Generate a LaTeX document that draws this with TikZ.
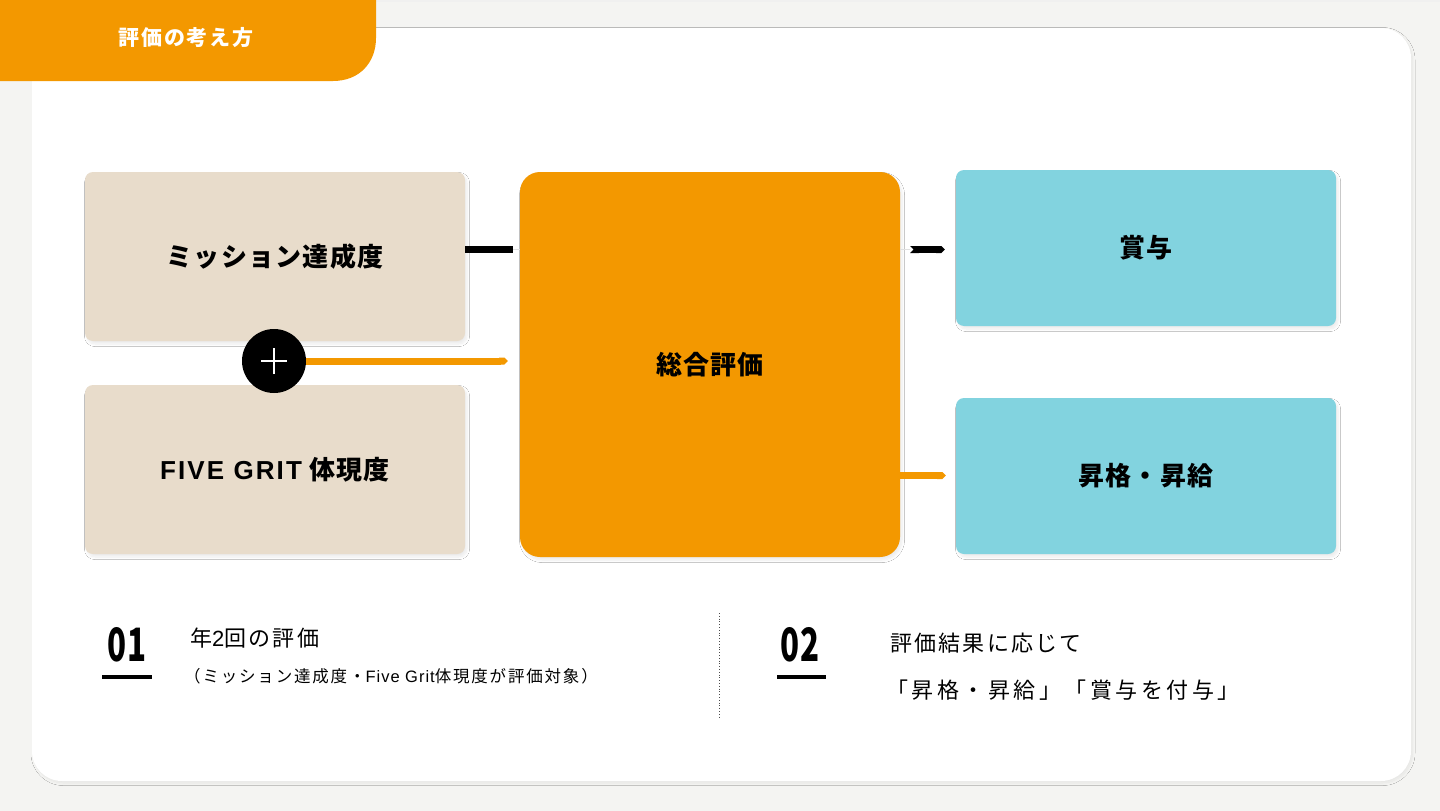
\documentclass[tikz,border=0pt]{standalone}
\usepackage{fontspec}
\setmainfont{Noto Sans CJK JP}
\newfontfamily\lat{Liberation Sans}
\usetikzlibrary{arrows.meta,shadows.blur}
\definecolor{bgc}{HTML}{F4F4F2}
\definecolor{org}{HTML}{F39800}
\definecolor{beige}{HTML}{E8DCCB}
\definecolor{cyanb}{HTML}{82D3DF}
\tikzset{
  box/.style={rounded corners=8pt, minimum width=380pt, inner sep=0pt, align=center,
    font=\fontsize{26}{30}\selectfont\bfseries\addfontfeatures{LetterSpace=5},
    blur shadow={shadow xshift=2pt, shadow yshift=-3pt, shadow opacity=8, shadow blur steps=8, shadow blur radius=2.5pt}},
  inbox/.style={box, fill=beige, minimum height=169pt},
  outbox/.style={box, fill=cyanb, minimum height=156pt},
  mainbox/.style={box, fill=org, rounded corners=20pt, minimum height=385pt},
  barline/.style={line width=7pt},
  faint/.style={draw=black!12, line width=0.8pt},
  numtxt/.style={font=\fontsize{46}{50}\selectfont\bfseries, xscale=0.68, transform shape, inner sep=0pt},
  numbar/.style={line width=4pt},
  bodytxt/.style={anchor=west, inner sep=0pt, font=\fontsize{22}{26}\selectfont\addfontfeatures{LetterSpace=10}},
  smalltxt/.style={anchor=west, inner sep=0pt, font=\fontsize{16.5}{20}\selectfont\addfontfeatures{LetterSpace=11}}
}
\begin{document}
\begin{tikzpicture}[x=1pt,y=-1pt]
\useasboundingbox (0,0) rectangle (1440,811);
\fill[bgc] (0,0) rectangle (1440,811);
\fill[black!6] (376,0) rectangle (1440,2);
% card
\fill[white, rounded corners=30pt, blur shadow={shadow xshift=1.5pt, shadow yshift=-2pt, shadow opacity=6, shadow blur steps=8, shadow blur radius=2.5pt}] (32,28) rectangle (1411,781);
% tab
\fill[org] (0,0) -- (376,0) -- (376,38) .. controls (376,62) and (360,81) .. (333,81) -- (0,81) -- cycle;
\node[text=white, font=\fontsize{21}{24}\selectfont\bfseries\addfontfeatures{LetterSpace=8}] (tab) at (186,38) {評価の考え方};

% boxes
\node[inbox] (mis) at (275,256.5) {ミッション達成度};
\node[inbox] (fg) at (275,469.5) {{\lat\addfontfeatures{LetterSpace=8}FIVE GRIT} 体現度};
\node[mainbox] (tot) at (710,364.5) {総合評価};
\node[outbox] (bon) at (1146,248) {賞与};
\node[outbox] (pro) at (1146,476) {昇格・昇給};

% plus circle
\node[circle, fill=black, minimum size=64pt, inner sep=0pt] (plus) at (274,361) {};
\draw[white, line width=1.4pt] ([xshift=-13pt]plus.center) -- ([xshift=13pt]plus.center);
\draw[white, line width=1.4pt] ([yshift=-13pt]plus.center) -- ([yshift=13pt]plus.center);

% connectors
\coordinate (c1) at ([xshift=-7pt]tot.west |- 0,249);
\draw[faint] (c1) -- (tot.west |- c1);
\draw[barline, black] (mis.east |- 0,249) -- (c1);

\coordinate (c2) at ([xshift=10pt]tot.east |- 0,249.5);
\draw[faint] (tot.east |- c2) -- (c2);
\draw[barline, black, {Triangle Cap[reversed]}-{Triangle Cap}] (c2) -- ([xshift=-11pt]bon.west |- c2);

\draw[barline, org, -{Triangle Cap}] (plus.east) -- ([xshift=-12pt]tot.west |- plus.east);
\draw[barline, org, -{Triangle Cap}] (tot.east |- 0,475.5) -- ([xshift=-10pt]pro.west |- 0,475.5);

% bottom section
\node[numtxt] (n1) at (127,645) {01};
\draw[numbar] (102,677) coordinate (b1s) -- (152,677) coordinate (b1e);
\node[bodytxt] (t1) at (190,638) {年{\lat 2}回の評価};
\node[smalltxt] (t1b) at (184,676) {（ミッション達成度・{\lat\addfontfeatures{LetterSpace=6}Five Grit}体現度が評価対象）};

\draw[black!70, line width=0.8pt, dotted] (719,613) coordinate (d1) -- (719,717) coordinate (d2);

\node[numtxt] (n2) at (800,645) {02};
\draw[numbar] (777,677) coordinate (b2s) -- (826,677) coordinate (b2e);
\node[bodytxt] (t2) at (890,643) {評価結果に応じて};
\node[bodytxt, font=\fontsize{22}{26}\selectfont\addfontfeatures{LetterSpace=16}] (t2b) at (886,690) {「昇格・昇給」「賞与を付与」};
\end{tikzpicture}
\end{document}
